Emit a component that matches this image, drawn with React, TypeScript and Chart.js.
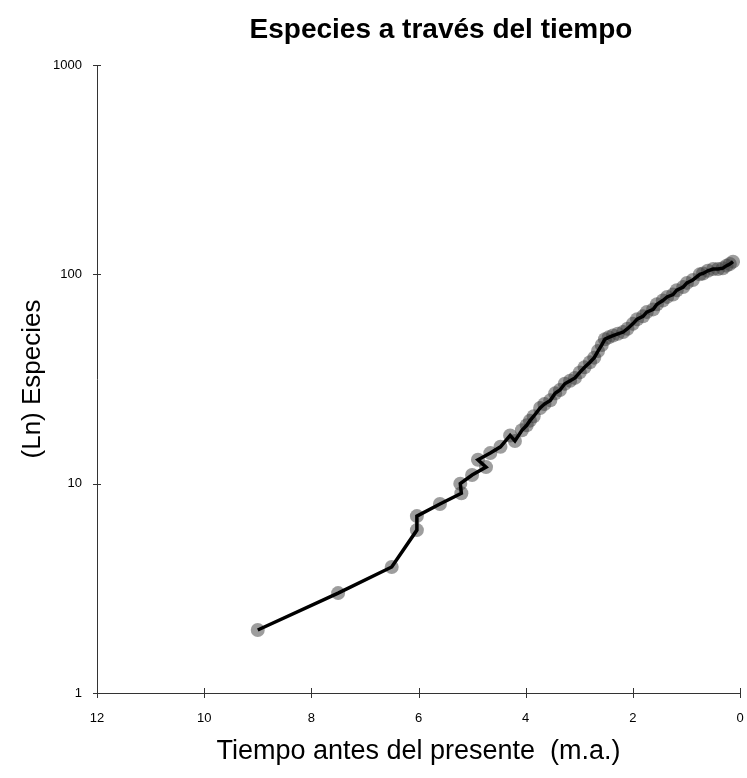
import React, { useEffect, useRef } from "react";
import { Chart, registerables } from "chart.js";

Chart.register(...registerables);

const chartTitle = "Especies a través del tiempo";
const xAxisTitle = "Tiempo antes del presente  (m.a.)";
const yAxisTitle = "(Ln) Especies";

const xTickValues = [12, 10, 8, 6, 4, 2, 0];
const yTickValues = [1, 10, 100, 1000];

// time before present (m.a.)
const times = [
  9.0, 7.5, 6.5, 6.03, 6.03, 5.6, 5.2, 5.22, 5.0, 4.74,
  4.89, 4.66, 4.47, 4.29, 4.2, 4.07, 3.98, 3.92, 3.85, 3.73,
  3.65, 3.54, 3.45, 3.36, 3.27, 3.17, 3.08, 2.99, 2.9, 2.8,
  2.72, 2.65, 2.58, 2.52, 2.45, 2.37, 2.28, 2.18, 2.1, 2.0,
  1.92, 1.81, 1.74, 1.62, 1.55, 1.44, 1.36, 1.25, 1.18, 1.06,
  0.99, 0.88, 0.75, 0.69, 0.6, 0.5, 0.41, 0.32, 0.25, 0.19,
  0.13,
];

// species count
const species = [
  2, 3, 4, 6, 7, 8, 9, 10, 11, 12,
  13, 14, 15, 17, 16, 18, 19, 20, 21, 23,
  24, 25, 27, 28, 30, 31, 32, 34, 36, 38,
  40, 43, 46, 49, 50, 51, 52, 53, 55, 58,
  61, 63, 66, 68, 72, 75, 78, 80, 84, 87,
  91, 94, 100, 101, 104, 106, 106, 107, 110, 112,
  115,
];

const FONT = "'Liberation Sans', Arial, Helvetica, sans-serif";

export default function App() {
  const canvasRef = useRef<HTMLCanvasElement | null>(null);

  useEffect(() => {
    const canvas = canvasRef.current;
    if (!canvas) return;
    const points = times.map((t, i) => ({ x: t, y: species[i] }));

    const decorPlugin = {
      id: "decor",
      afterDraw(chart: any) {
        const { ctx, chartArea, scales } = chart;
        ctx.save();
        ctx.strokeStyle = "#333";
        ctx.lineWidth = 1;
        xTickValues.forEach((v) => {
          const px = Math.round(scales.x.getPixelForValue(v)) + 0.5;
          ctx.beginPath();
          ctx.moveTo(px, chartArea.bottom - 5);
          ctx.lineTo(px, chartArea.bottom + 5);
          ctx.stroke();
        });
        yTickValues.forEach((v) => {
          const py = Math.round(scales.y.getPixelForValue(v)) + 0.5;
          ctx.beginPath();
          ctx.moveTo(chartArea.left - 4, py);
          ctx.lineTo(chartArea.left + 4, py);
          ctx.stroke();
        });
        ctx.fillStyle = "#000";
        ctx.font = `bold 28px ${FONT}`;
        ctx.textAlign = "center";
        ctx.textBaseline = "middle";
        ctx.fillText(chartTitle, 441, 30);
        ctx.restore();
      },
    };

    const chart = new Chart(canvas, {
      type: "line",
      data: {
        datasets: [
          {
            label: "line",
            data: points,
            borderColor: "#000",
            borderWidth: 3.5,
            pointRadius: 0,
            tension: 0,
            fill: false,
            order: 1,
          },
          {
            label: "markers",
            data: points,
            showLine: false,
            pointRadius: 7,
            pointBackgroundColor: "rgba(60,60,60,0.5)",
            pointBorderWidth: 0,
            pointBorderColor: "rgba(0,0,0,0)",
            order: 2,
          },
        ],
      },
      plugins: [decorPlugin],
      options: {
        animation: false,
        responsive: true,
        maintainAspectRatio: false,
        layout: { padding: { top: 65, right: 7, bottom: 0, left: 0 } },
        plugins: {
          legend: { display: false },
          title: { display: false },
          tooltip: { enabled: false },
        },
        scales: {
          x: {
            type: "linear",
            reverse: true,
            min: 0,
            max: 12,
            afterBuildTicks: (s: any) => {
              s.ticks = xTickValues.map((v) => ({ value: v }));
            },
            afterFit: (s: any) => {
              s.height = 85;
            },
            grid: { display: false, drawTicks: true, tickLength: 15 },
            border: { display: true, color: "#333", width: 1 },
            ticks: {
              color: "#000",
              font: { family: FONT, size: 13 },
              padding: 3,
              maxRotation: 0,
              autoSkip: false,
            },
            title: {
              display: true,
              text: xAxisTitle,
              color: "#000",
              font: { family: FONT, size: 27 },
              padding: { top: 0, bottom: 10 },
            },
          },
          y: {
            type: "logarithmic",
            min: 1,
            max: 1000,
            afterBuildTicks: (s: any) => {
              s.ticks = yTickValues.map((v) => ({ value: v }));
            },
            afterFit: (s: any) => {
              s.width = 97;
            },
            grid: { display: false, drawTicks: true, tickLength: 8 },
            border: { display: true, color: "#333", width: 1 },
            ticks: {
              color: "#000",
              font: { family: FONT, size: 13 },
              padding: 7,
              autoSkip: false,
              callback: (v: any) => String(v),
            },
            title: {
              display: true,
              text: yAxisTitle,
              color: "#000",
              font: { family: FONT, size: 26 },
              padding: { top: 17, bottom: 0 },
            },
          },
        },
      },
    });

    return () => chart.destroy();
  }, []);

  return (
    <div style={{ position: "absolute", left: 0, top: 0, width: 747, height: 778, background: "#fff" }}>
      <canvas ref={canvasRef} />
    </div>
  );
}
